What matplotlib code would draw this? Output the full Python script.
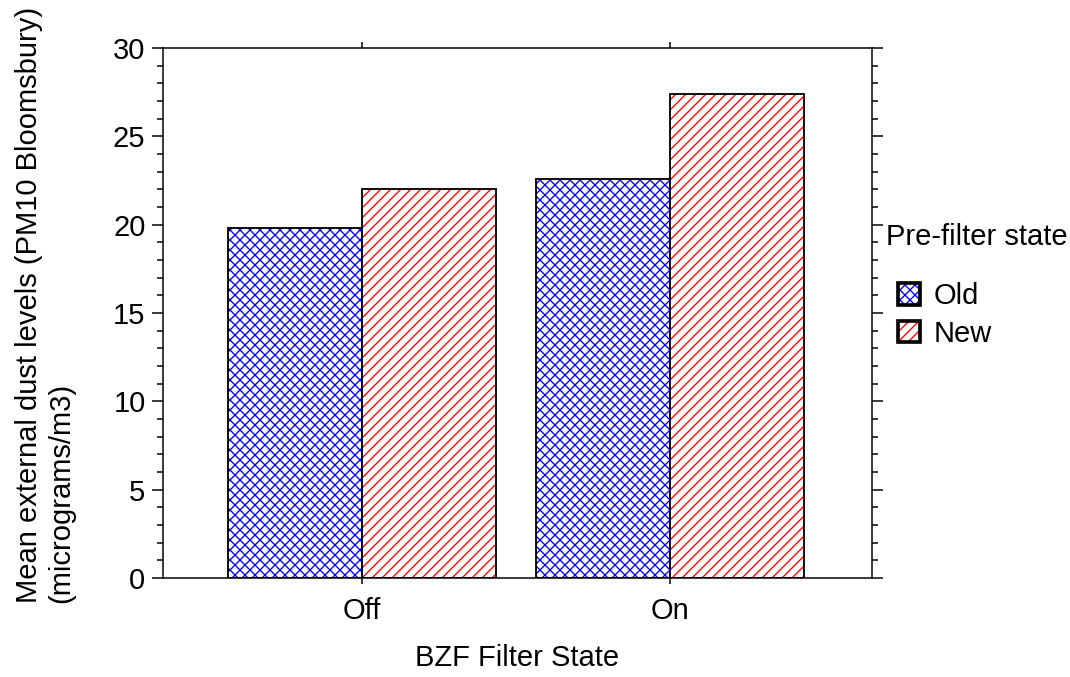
import numpy as np
import matplotlib.pyplot as plt
from matplotlib.patches import Patch
from matplotlib.colors import to_rgba
from matplotlib.ticker import MultipleLocator

# Data
filter_states = ['Off', 'On']
prefilter_states = ['Old', 'New']
old_values = [19.8, 22.6]
new_values = [22.0, 27.4]

plt.rcParams['font.family'] = ['Liberation Sans', 'DejaVu Sans']
plt.rcParams['font.size'] = 17.5
plt.rcParams['hatch.linewidth'] = 0.8

fig = plt.figure(figsize=(1070 / 120, 677 / 120), dpi=120)
ax = fig.add_axes([163 / 1070, 1 - 578 / 677, (872 - 163) / 1070, (578 - 48) / 677])

x = np.arange(len(filter_states))
w = 0.435
# hatched fill, then a black outline on top
ax.bar(x - w / 2, old_values, w, facecolor='white', edgecolor='blue', hatch='xxxx', linewidth=0)
ax.bar(x - w / 2, old_values, w, facecolor='none', edgecolor='black', linewidth=1.1)
ax.bar(x + w / 2, new_values, w, facecolor='white', edgecolor='red', hatch='////', linewidth=0)
ax.bar(x + w / 2, new_values, w, facecolor='none', edgecolor='black', linewidth=1.1)

ax.set_xlim(-0.646, 1.656)
ax.set_ylim(0, 30)
ax.set_xticks(x)
ax.set_xticklabels(filter_states)
ax.yaxis.set_major_locator(MultipleLocator(5))
ax.yaxis.set_minor_locator(MultipleLocator(1))

for s in ax.spines.values():
    s.set_linewidth(0.9)

ax.tick_params(axis='y', which='major', direction='out', length=6.5, width=0.9,
               left=True, right=True, pad=4)
ax.tick_params(axis='y', which='minor', direction='out', length=3.5, width=0.9,
               left=True, right=True)
ax.tick_params(axis='x', which='major', direction='out', length=3.5, width=0.9,
               top=True, bottom=True, pad=8)

ax.set_xlabel('BZF Filter State', labelpad=11)
fig.text(45 / 1070, 1 - 305 / 677,
         'Mean external dust levels (PM10 Bloomsbury)\n(micrograms/m3)',
         rotation=90, ha='center', va='center', multialignment='left')

# legend
fig.text(886 / 1070, 1 - 237 / 677, 'Pre-filter state', ha='left', va='center')
handles = [Patch(facecolor='white', edgecolor='black', linewidth=2.2, hatch='xxxx'),
           Patch(facecolor='white', edgecolor='black', linewidth=2.2, hatch='////')]
leg = fig.legend(handles, prefilter_states,
                 loc='upper left', bbox_to_anchor=(872 / 1070, 1 - 256 / 677),
                 frameon=False, handlelength=0.75, handleheight=0.75,
                 handletextpad=0.45, labelspacing=0.33)
for p, c in zip(leg.get_patches(), ['blue', 'red']):
    p._hatch_color = to_rgba(c)

fig.savefig('out.png', dpi=120)
